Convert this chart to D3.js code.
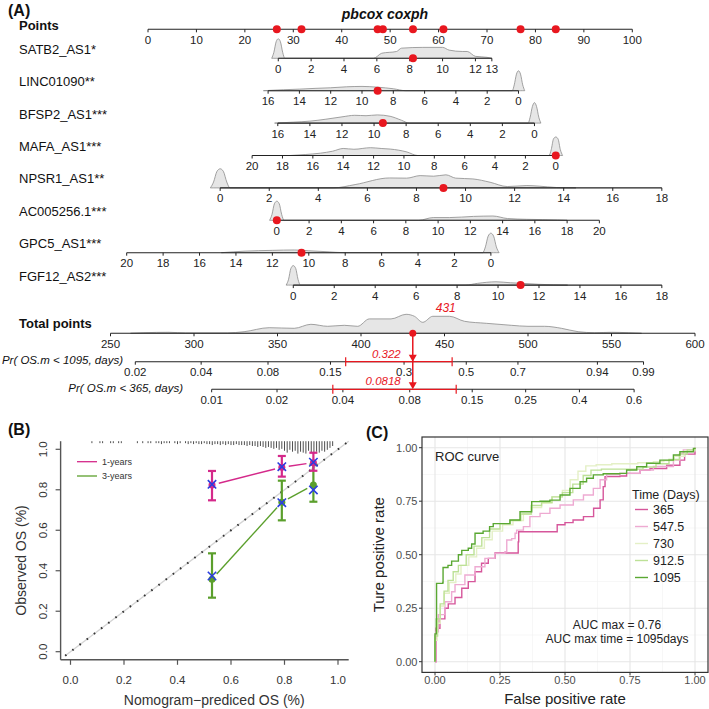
<!DOCTYPE html>
<html><head><meta charset="utf-8">
<script src="https://cdn.jsdelivr.net/npm/d3@7"></script>
<style>body{margin:0;background:#fff}svg{display:block}</style>
</head><body><svg id="c" width="709" height="709"></svg>
<script>
// ---------------- DATA ----------------
const pointsTicks = d3.range(0, 101, 10);
const varNames = ["SATB2_AS1*", "LINC01090**", "BFSP2_AS1***", "MAFA_AS1***", "NPSR1_AS1**", "AC005256.1***", "GPC5_AS1***", "FGF12_AS2***"];
const varLeftValue  = [0, 16, 16, 20, 0, 0, 20, 0];
const varRightValue = [13, 0, 0, 0, 18, 20, 0, 18];
const varLeftPts  = [26.9, 24.8, 26.8, 21.5, 14.9, 26.6, -4.4, 30.0];
const varRightPts = [71.0, 76.5, 79.8, 84.2, 106.1, 93.2, 70.8, 106.1];
const varTicks = [
  [0, 2, 4, 6, 8, 10, 12, 13],
  [16, 14, 12, 10, 8, 6, 4, 2, 0],
  [16, 14, 12, 10, 8, 6, 4, 2, 0],
  [20, 18, 16, 14, 12, 10, 8, 6, 4, 2, 0],
  [0, 2, 4, 6, 8, 10, 12, 14, 16, 18],
  [0, 2, 4, 6, 8, 10, 12, 14, 16, 18, 20],
  [20, 18, 16, 14, 12, 10, 8, 6, 4, 2, 0],
  [0, 2, 4, 6, 8, 10, 12, 14, 16, 18]
];
const patientValues = [8.2, 9.0, 9.45, 0, 9.1, 0, 10.4, 11.1];

const densSATB2 = [[-0.4,0],[-0.27,0.3],[-0.13,0.85],[0,1],[0.13,0.85],[0.27,0.3],[0.4,0],[5.8,0],[6.3,0.26],[7.2,0.35],[7.5,0.52],[8.8,0.56],[10,0.56],[10.4,0.42],[11.2,0.35],[11.5,0.35],[12,0.1],[12.7,0.05],[13,0]];
const densLINC01090 = [[16.3,0],[15,0.05],[14,0.08],[13,0.12],[12,0.15],[11,0.2],[10,0.22],[9,0.18],[8,0.1],[7.2,0],[0.4,0],[0.27,0.3],[0.13,0.85],[0,1.02],[-0.13,0.85],[-0.27,0.3],[-0.4,0]];
const densBFSP2 = [[16.2,0],[15,0.05],[14,0.1],[13,0.2],[12,0.32],[11.2,0.4],[10.5,0.38],[9.8,0.42],[9,0.35],[8.3,0.15],[7.8,0],[0.4,0],[0.27,0.3],[0.13,0.85],[0,1.05],[-0.13,0.85],[-0.27,0.3],[-0.4,0]];
const densMAFA = [[17.5,0],[16.5,0.05],[15.5,0.12],[14.7,0.22],[14,0.36],[13.3,0.32],[12.2,0.4],[11.5,0.36],[10.9,0.33],[9.8,0.18],[9.1,0],[0.45,0],[0.3,0.3],[0.15,0.85],[0,0.95],[-0.15,0.85],[-0.3,0.3],[-0.45,0]];
const densNPSR1 = [[-0.4,0],[-0.27,0.3],[-0.13,0.85],[0,0.98],[0.13,0.85],[0.27,0.3],[0.4,0],[4.6,0],[5.5,0.17],[6.9,0.51],[7.6,0.5],[8.15,0.63],[8.7,0.6],[9.2,0.67],[9.6,0.5],[10.3,0.46],[11,0.29],[11.7,0.07],[12.5,0.12],[13,0.09],[13.7,0.02],[14.5,0]];
const densAC005256 = [[-0.45,0],[-0.3,0.3],[-0.15,0.85],[0,0.98],[0.15,0.85],[0.3,0.3],[0.45,0],[8.8,0],[9.7,0.14],[10.7,0.14],[12.2,0.2],[13.4,0.22],[14.3,0.09],[15.5,0.05],[17.4,0.02],[18,0]];
const densGPC5 = [[14.8,0],[13.5,0.08],[12,0.12],[10.8,0.14],[10,0.1],[9,0.05],[8,0],[0.45,0],[0.3,0.3],[0.15,0.85],[0,1],[-0.15,0.85],[-0.3,0.3],[-0.45,0]];
const densFGF12 = [[-0.35,0],[-0.23,0.3],[-0.12,0.85],[0,1],[0.12,0.85],[0.23,0.3],[0.35,0],[8.4,0],[9,0.09],[9.9,0.17],[10.6,0.12],[11.2,0.09],[12,0.04],[13.4,0]];
const varDensities = [densSATB2, densLINC01090, densBFSP2, densMAFA, densNPSR1, densAC005256, densGPC5, densFGF12];

const totalTicks = d3.range(250, 601, 50);
const totalDensity = [[262,0],[270,0.03],[285,0.05],[295,0.02],[320,0.02],[330,0.08],[345,0.28],[360,0.25],[370,0.45],[380,0.35],[390,0.4],[398,0.35],[405,0.72],[418,0.72],[427,0.95],[432,0.85],[437,0.55],[443,0.85],[453,0.85],[462,0.6],[475,0.5],[490,0.4],[500,0.35],[510,0.35],[520,0.25],[530,0.08],[540,0.03],[550,0.05],[560,0.03],[568,0]];
const totalPoints = 431;

const survTimes = [1095, 365];
const prLabels = ["Pr( OS.m < 1095, days)", "Pr( OS.m < 365, days)"];
const prTicks = [[0.02, 0.04, 0.08, 0.15, 0.3, 0.5, 0.7, 0.94, 0.99], [0.01, 0.02, 0.04, 0.08, 0.15, 0.25, 0.4, 0.6]];
const coxSlope = 0.01784, coxRefPts = 463;
const logCumHazRef = [-0.367, -1.881];
const predProbLabel = ["0.322", "0.0818"];
const predCI = [[0.174, 0.449], [0.036, 0.128]];

// Calibration (B)
const calPred = [0.529, 0.790, 0.908];
const cal1Obs = [0.824, 0.911, 0.934], cal1Corr = [0.827, 0.914, 0.936], cal1Lo = [0.748, 0.865, 0.894], cal1Hi = [0.893, 0.967, 0.983];
const cal3Obs = [0.358, 0.738, 0.824], cal3Corr = [0.374, 0.736, 0.799], cal3Lo = [0.267, 0.649, 0.741], cal3Hi = [0.486, 0.845, 0.925];
const calTicks = [0, 0.2, 0.4, 0.6, 0.8, 1.0];
const predHistStart = 0.08, predHistStep = 0.01;
const predHist = [1,0,0,1,1,0,0,1,1,0,1,1,0,0,0,0,0,1,0,1,0,1,1,0,1,1,2,1,1,1,0,1,2,1,0,1,2,1,2,1,2,2,1,2,2,3,2,2,3,2,3,2,3,3,2,3,3,3,4,3,4,4,5,4,5,6,5,6,7,6,8,7,9,11,8,10,9,12,10,11,12,9,11,12,10,11,9,10,8,6,4];

// ROC (C)
const rocTimes = ["365", "547.5", "730", "912.5", "1095"];
const roc365 = [[0,0],[0.004,0.156],[0.019,0.2],[0.038,0.25],[0.051,0.27],[0.077,0.3],[0.103,0.343],[0.128,0.374],[0.154,0.42],[0.179,0.46],[0.205,0.483],[0.231,0.508],[0.32,0.56],[0.322,0.607],[0.47,0.64],[0.5,0.65],[0.531,0.662],[0.571,0.678],[0.61,0.717],[0.635,0.756],[0.647,0.818],[0.654,0.865],[0.711,0.868],[0.737,0.88],[0.788,0.896],[0.827,0.903],[0.891,0.918],[0.942,0.942],[0.96,0.97],[1,1]];
const roc547 = [[0,0],[0.003,0.14],[0.013,0.22],[0.038,0.28],[0.064,0.327],[0.077,0.36],[0.115,0.405],[0.154,0.444],[0.192,0.483],[0.23,0.506],[0.269,0.514],[0.276,0.569],[0.295,0.575],[0.308,0.6],[0.314,0.615],[0.34,0.631],[0.365,0.678],[0.404,0.693],[0.442,0.717],[0.481,0.732],[0.532,0.756],[0.571,0.779],[0.609,0.81],[0.635,0.85],[0.66,0.873],[0.711,0.88],[0.788,0.896],[0.84,0.912],[0.917,0.942],[0.942,0.973],[0.955,0.99],[1,1]];
const roc730 = [[0,0],[0,0.1],[0.008,0.18],[0.02,0.26],[0.035,0.32],[0.055,0.37],[0.08,0.41],[0.1,0.45],[0.13,0.49],[0.16,0.53],[0.19,0.57],[0.22,0.61],[0.26,0.64],[0.3,0.66],[0.34,0.69],[0.37,0.72],[0.41,0.74],[0.45,0.77],[0.49,0.8],[0.52,0.85],[0.55,0.89],[0.58,0.915],[0.62,0.92],[0.68,0.925],[0.74,0.925],[0.78,0.93],[0.84,0.935],[0.88,0.94],[0.92,0.96],[0.96,0.985],[1,1]];
const roc912 = [[0,0],[0,0.12],[0.01,0.2],[0.02,0.27],[0.035,0.33],[0.05,0.38],[0.07,0.42],[0.09,0.45],[0.12,0.5],[0.15,0.54],[0.18,0.58],[0.21,0.62],[0.25,0.645],[0.29,0.66],[0.33,0.69],[0.37,0.73],[0.41,0.745],[0.45,0.77],[0.49,0.79],[0.53,0.83],[0.57,0.87],[0.6,0.895],[0.64,0.9],[0.75,0.9],[0.8,0.91],[0.85,0.925],[0.9,0.945],[0.94,0.97],[0.97,0.99],[1,1]];
const roc1095 = [[0,0],[0,0.13],[0.005,0.2],[0.006,0.366],[0.03,0.37],[0.031,0.44],[0.05,0.45],[0.064,0.47],[0.08,0.47],[0.09,0.5],[0.103,0.52],[0.128,0.53],[0.141,0.55],[0.154,0.6],[0.185,0.61],[0.21,0.631],[0.224,0.645],[0.288,0.662],[0.327,0.701],[0.372,0.748],[0.404,0.75],[0.442,0.755],[0.481,0.779],[0.519,0.81],[0.558,0.841],[0.583,0.857],[0.609,0.873],[0.647,0.878],[0.711,0.88],[0.737,0.896],[0.776,0.911],[0.814,0.927],[0.865,0.942],[0.917,0.966],[0.942,0.981],[0.994,0.997],[1,1]];
const rocCurves = [roc365, roc547, roc730, roc912, roc1095];
const rocTicks = [0, 0.25, 0.5, 0.75, 1];
const aucText = ["AUC max = 0.76", "AUC max time = 1095days"];

// ---------------- DRAWING ----------------
const FONT = '"Liberation Sans", Arial, Helvetica, sans-serif';
const RED = "#e8171f";
const svg = d3.select("#c").style("font-family", FONT);
function txt(x, y, s, size, opts = {}) {
  const t = svg.append("text").attr("x", x).attr("y", y).text(s)
    .attr("font-size", size).attr("fill", opts.fill || "#111");
  if (opts.anchor) t.attr("text-anchor", opts.anchor);
  if (opts.weight) t.attr("font-weight", opts.weight);
  if (opts.style) t.attr("font-style", opts.style);
  if (opts.rotate) t.attr("transform", `rotate(-90,${x},${y})`);
  return t;
}
function hline(x1, x2, y, col, w) {
  svg.append("line").attr("x1", x1).attr("x2", x2).attr("y1", y).attr("y2", y).attr("stroke", col).attr("stroke-width", w);
}
function vline(x, y1, y2, col, w) {
  svg.append("line").attr("x1", x).attr("x2", x).attr("y1", y1).attr("y2", y2).attr("stroke", col).attr("stroke-width", w);
}

// ===== Panel A: nomogram =====
const xPts = d3.scaleLinear([0, 100], [148, 632.3]);
const xTot = d3.scaleLinear([250, 600], [110.5, 695]);
const ptsAxisY = 29.3, rowY0 = 58.3, rowStep = 32.4, densUnit = 19.5;
const totAxisY = 333.3, prAxisY = [361.7, 389.3];
const tickFont = 11.5, labFont = 13;

txt(8, 16, "(A)", 16, {weight: "bold"});
txt(385, 19, "pbcox coxph", 14, {weight: "bold", style: "italic", anchor: "middle"});
txt(19, 29.5, "Points", labFont, {weight: "bold"});

function drawAxis(scale, ticks, y, fmt) {
  const xs = ticks.map(scale);
  hline(d3.min(xs), d3.max(xs), y, "#222", 1.1);
  ticks.forEach(t => {
    vline(scale(t), y, y + 3, "#222", 1);
    txt(scale(t), y + 14.5, fmt ? fmt(t) : String(t), tickFont, {anchor: "middle", fill: "#222"});
  });
}
drawAxis(xPts, pointsTicks, ptsAxisY);

const area = d3.area().curve(d3.curveMonotoneX);
const varPointScales = varNames.map((n, i) => d3.scaleLinear([varLeftValue[i], varRightValue[i]], [varLeftPts[i], varRightPts[i]]));
const patientPts = patientValues.map((v, i) => varPointScales[i](v));

varNames.forEach((name, i) => {
  const y = rowY0 + i * rowStep;
  const vx = v => xPts(varPointScales[i](v));
  txt(19, y - 4.5, name, labFont);
  const pts = varDensities[i].map(d => [vx(d[0]), d[1]]).sort((a, b) => a[0] - b[0]);
  svg.append("path").attr("d", area.x(d => d[0]).y0(y).y1(d => y - d[1] * densUnit)(pts))
    .attr("fill", "#e6e6e6").attr("stroke", "#8c8c8c").attr("stroke-width", 0.8);
  drawAxis(vx, varTicks[i], y);
  svg.append("circle").attr("cx", vx(patientValues[i])).attr("cy", y).attr("r", 4).attr("fill", RED);
});
patientPts.forEach(p => svg.append("circle").attr("cx", xPts(p)).attr("cy", ptsAxisY).attr("r", 4).attr("fill", RED));

txt(19, 328, "Total points", labFont, {weight: "bold"});
const totPts = totalDensity.map(d => [xTot(d[0]), d[1]]);
svg.append("path").attr("d", area.x(d => d[0]).y0(totAxisY).y1(d => totAxisY - d[1] * 20)(totPts))
  .attr("fill", "#e6e6e6").attr("stroke", "#8c8c8c").attr("stroke-width", 0.8);
drawAxis(xTot, totalTicks, totAxisY);

function totFromP(k, p) { return coxRefPts + (Math.log(-Math.log(1 - p)) - logCumHazRef[k]) / coxSlope; }
const prLabelRight = [123, 183];
survTimes.forEach((t, k) => {
  const sc = p => xTot(totFromP(k, p));
  txt(prLabelRight[k], prAxisY[k] + 2.5, prLabels[k], 11.5, {anchor: "end", style: "italic"});
  drawAxis(sc, prTicks[k], prAxisY[k]);
});

const xT = xTot(totalPoints);
vline(xT, totAxisY, prAxisY[1] - 3, RED, 1.5);
svg.append("circle").attr("cx", xT).attr("cy", totAxisY).attr("r", 3.5).attr("fill", RED);
txt(xT + 23, 312, String(totalPoints), 12, {style: "italic", fill: RED});
survTimes.forEach((t, k) => {
  const y = prAxisY[k];
  const x1 = xTot(totFromP(k, predCI[k][0])), x2 = xTot(totFromP(k, predCI[k][1]));
  hline(x1, x2, y, RED, 1.2);
  vline(x1, y - 4.5, y + 4.5, RED, 1.2);
  vline(x2, y - 4.5, y + 4.5, RED, 1.2);
  svg.append("path").attr("d", `M${xT - 4},${y - 7}L${xT + 4},${y - 7}L${xT},${y}Z`).attr("fill", RED);
  txt(xT - 12, y - 4, predProbLabel[k], 11.5, {anchor: "end", style: "italic", fill: RED});
});

// ===== Panel B: calibration =====
const PINK = "#d4298a", GREEN = "#5b9f2c", BLUE = "#2a3de0";
const xB = d3.scaleLinear([0, 1], [70.5, 338]);
const yB = d3.scaleLinear([0, 1], [651.7, 449.3]);
txt(8, 435, "(B)", 16, {weight: "bold"});
const bx0 = xB(-0.037), bx1 = xB(1.04), by0 = yB(-0.04), by1 = yB(1.04);
vline(bx0, by1, by0, "#555", 1.4);
hline(bx0, bx1, by0, "#555", 1.4);
calTicks.forEach(t => {
  vline(xB(t), by0, by0 + 5, "#555", 1.2);
  txt(xB(t), 684, t.toFixed(1), 11.5, {anchor: "middle", fill: "#333"});
  hline(bx0 - 5, bx0, yB(t), "#555", 1.2);
  txt(47, yB(t), t.toFixed(1), 11.5, {anchor: "middle", fill: "#333", rotate: true});
});
txt((xB(0) + xB(1)) / 2 + 10, 705, "Nomogram\u2212prediced OS (%)", 14, {anchor: "middle", fill: "#333"});
txt(26, (by0 + by1) / 2 + 10, "Observed OS (%)", 14, {anchor: "middle", fill: "#333", rotate: true});
svg.append("line").attr("x1", xB(-0.02)).attr("y1", yB(-0.02)).attr("x2", xB(1.04)).attr("y2", yB(1.04))
  .attr("stroke", "#d4d4d4").attr("stroke-width", 1.4);
svg.append("line").attr("x1", xB(-0.02)).attr("y1", yB(-0.02)).attr("x2", xB(1.04)).attr("y2", yB(1.04))
  .attr("stroke", "#333").attr("stroke-width", 2).attr("stroke-dasharray", "1.6,7.4");
predHist.forEach((c, i) => {
  if (!c) return;
  const x = xB(predHistStart + i * predHistStep);
  vline(x, by1, by1 + 1 + c * 0.95, "#222", 0.8);
});
hline(77, 97, 461.7, PINK, 1.3); txt(102, 464.7, "1-years", 9, {fill: "#333"});
hline(77, 97, 476, GREEN, 1.3); txt(102, 479, "3-years", 9, {fill: "#333"});

function drawCal(obs, corr, lo, hi, col) {
  for (let i = 0; i < obs.length - 1; i++) {
    const ax = xB(calPred[i]), ay = yB(obs[i]), bx = xB(calPred[i + 1]), by = yB(obs[i + 1]);
    const L = Math.hypot(bx - ax, by - ay), g = 7;
    const ux = (bx - ax) / L, uy = (by - ay) / L;
    svg.append("line").attr("x1", ax + ux * g).attr("y1", ay + uy * g).attr("x2", bx - ux * g).attr("y2", by - uy * g)
      .attr("stroke", col).attr("stroke-width", 1.4);
  }
  calPred.forEach((p, i) => {
    const x = xB(p);
    vline(x, yB(hi[i]), yB(lo[i]), col, 2.2);
    hline(x - 4, x + 4, yB(hi[i]), col, 2.2);
    hline(x - 4, x + 4, yB(lo[i]), col, 2.2);
    svg.append("circle").attr("cx", x).attr("cy", yB(obs[i])).attr("r", 3.5).attr("fill", col);
  });
}
drawCal(cal3Obs, cal3Corr, cal3Lo, cal3Hi, GREEN);
drawCal(cal1Obs, cal1Corr, cal1Lo, cal1Hi, PINK);
[cal1Corr, cal3Corr].forEach(corr => calPred.forEach((p, i) => {
  const x = xB(p), y = yB(corr[i]), s = 4.2;
  svg.append("path").attr("d", `M${x - s},${y - s}L${x + s},${y + s}M${x - s},${y + s}L${x + s},${y - s}`)
    .attr("stroke", BLUE).attr("stroke-width", 1.6);
}));

// ===== Panel C: ROC =====
const xC = d3.scaleLinear([0, 1], [435, 695]);
const yC = d3.scaleLinear([0, 1], [661.7, 447.7]);
const rocColors = ["#d6569b", "#eeaad2", "#e4f0c6", "#bde197", "#5aa832"];
txt(366, 438, "(C)", 16, {weight: "bold"});
const cx0 = xC(-0.05), cx1 = xC(1.05), cy0 = yC(-0.05), cy1 = yC(1.05);
[0.125, 0.375, 0.625, 0.875].forEach(t => {
  vline(xC(t), cy1, cy0, "#f2f2f2", 0.6);
  hline(cx0, cx1, yC(t), "#f2f2f2", 0.6);
});
rocTicks.forEach(t => {
  vline(xC(t), cy1, cy0, "#e6e6e6", 1.1);
  hline(cx0, cx1, yC(t), "#e6e6e6", 1.1);
});
svg.append("rect").attr("x", cx0).attr("y", cy1).attr("width", cx1 - cx0).attr("height", cy0 - cy1)
  .attr("fill", "none").attr("stroke", "#333").attr("stroke-width", 1.2);
rocTicks.forEach(t => {
  vline(xC(t), cy0, cy0 + 3, "#333", 1);
  txt(xC(t), 684, t.toFixed(2), 11, {anchor: "middle", fill: "#4d4d4d"});
  hline(cx0 - 3, cx0, yC(t), "#333", 1);
  txt(cx0 - 4.5, yC(t) + 4, t.toFixed(2), 11, {anchor: "end", fill: "#4d4d4d"});
});
txt((cx0 + cx1) / 2, 703.5, "False positive rate", 15, {anchor: "middle", fill: "#222"});
txt(384, (cy0 + cy1) / 2, "Ture positive rate", 15, {anchor: "middle", fill: "#222", rotate: true});
const rocLine = d3.line().x(d => xC(d[0])).y(d => yC(d[1])).curve(d3.curveStepAfter);
rocCurves.forEach((c, i) => {
  svg.append("path").attr("d", rocLine(c)).attr("fill", "none").attr("stroke", rocColors[i]).attr("stroke-width", 1.4);
});
txt(435, 461, "ROC curve", 13, {fill: "#222"});
txt(632, 499, "Time (Days)", 12.5, {fill: "#222"});
rocTimes.forEach((t, i) => {
  const y = 509.5 + i * 17;
  hline(635, 648, y, rocColors[i], 1.4);
  txt(653, y + 4.5, t, 12.5, {fill: "#222"});
});
txt(617, 629, aucText[0], 12, {anchor: "middle", fill: "#222"});
txt(617, 642.5, aucText[1], 12, {anchor: "middle", fill: "#222"});
</script></body></html>
